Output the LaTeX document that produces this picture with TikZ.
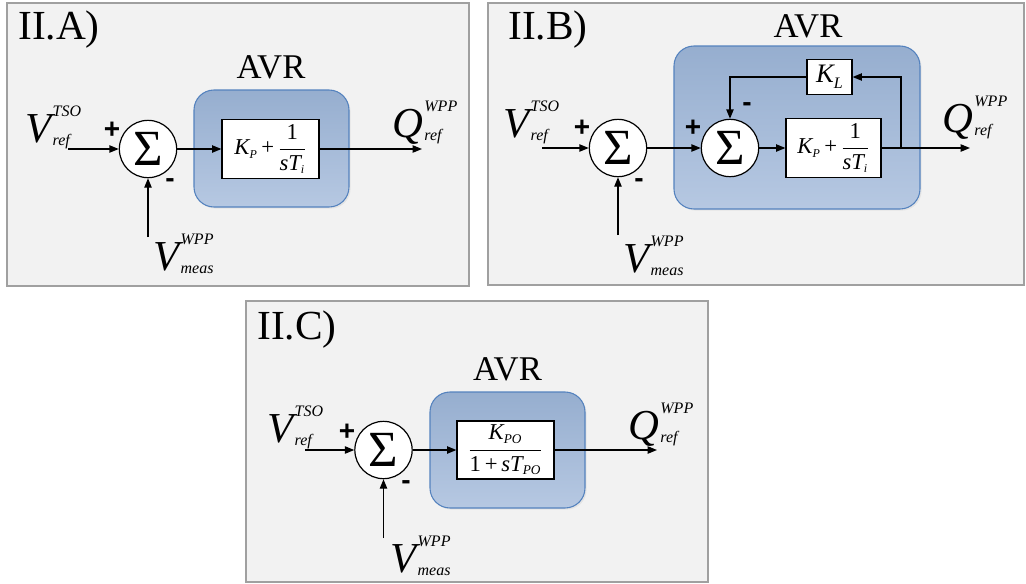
\documentclass[tikz,border=0pt]{standalone}
\usepackage{fontspec}
\setmainfont{Liberation Serif}
\newfontfamily\signfont{Liberation Sans}
\usetikzlibrary{arrows.meta,shadows}

\definecolor{panelbg}{RGB}{242,242,242}
\definecolor{panelbd}{RGB}{160,160,160}
\definecolor{avrtop}{RGB}{150,174,207}
\definecolor{avrbot}{RGB}{182,200,226}
\definecolor{avrbd}{RGB}{84,130,190}

\newcommand\sigsym[3]{{\fontsize{32}{32}\selectfont\itshape #1}{\fontsize{12}{12}\selectfont\itshape\kern1pt\rlap{\raisebox{19pt}{#2}}\raisebox{-2.5pt}{#3}}}
\newcommand\pitf{\fontsize{17}{17}\selectfont$\mbox{\itshape K}_{\mbox{\fontsize{9}{9}\selectfont\itshape P}}\mbox{\,+\,}{\displaystyle\frac{\mbox{1}}{\mbox{\itshape sT}_{\mbox{\fontsize{9}{9}\selectfont\itshape i}}}}$}
\newcommand\potf{\fontsize{17}{17}\selectfont$\displaystyle\frac{\mbox{\itshape K}_{\mbox{\fontsize{10}{10}\selectfont\itshape PO}}}{\mbox{1\,+\,\itshape sT}_{\mbox{\fontsize{10}{10}\selectfont\itshape PO}}}$}

\tikzset{
  panel/.style={draw=panelbd, fill=panelbg, line width=1pt},
  avr/.style={draw=avrbd, line width=0.8pt, rounded corners=15pt, top color=avrtop, bottom color=avrbot,
    drop shadow={opacity=0.12, shadow xshift=1.2pt, shadow yshift=-1.2pt}, inner sep=0},
  blk/.style={draw, fill=white, line width=0.9pt, inner sep=0},
  sumnode/.style={circle, draw, fill=white, line width=0.9pt, minimum size=43pt, inner sep=0,
    font=\fontsize{38}{38}\selectfont},
  sig/.style={draw, line width=0.9pt, -{Triangle[length=7pt,width=5.5pt]}},
  sgn/.style={font=\signfont\bfseries\fontsize{21}{21}\selectfont, inner sep=0},
  ttl/.style={anchor=base west, inner sep=0, font=\fontsize{31}{31}\selectfont},
  avrlab/.style={anchor=base, inner sep=0, font=\fontsize{26}{26}\selectfont},
  lab/.style={anchor=base west, inner sep=0},
}

\begin{document}
\begin{tikzpicture}[x=0.75pt, y=-0.75pt]
\useasboundingbox (0,0) rectangle (1026,583);

% ---------------- Panel A ----------------
\node[panel, minimum width=346.5pt, minimum height=212.25pt, inner sep=0] (panA) at (238,144.5) {};
\node[ttl] (tA) at (18,39) {II.A)};
\node[avrlab] (aA) at (271,78) {AVR};
\node[avr, minimum width=116.25pt, minimum height=87.75pt] (avrA) at (271.5,148.5) {};
\node[blk, minimum width=72.75pt, minimum height=44.25pt] (blkA) at (270.5,149) {\pitf};
\node[sumnode] (sA) at (148,149) {$\mbox{Σ}$};
\coordinate (inA) at (68,149);
\coordinate (outA) at (422,149);
\coordinate (measA) at (148,237);
\draw[sig] (inA) -- (sA.west);
\draw[sig] (sA.east) -- (blkA.west);
\draw[sig] (blkA.east) -- (outA);
\draw[sig] (measA) -- (sA.south);
\node[sgn] (pA) at (112,130) {+};
\node[sgn] (mA) at (170,183) {-};
\node[lab] (vrA) at (25,142) {\sigsym{V}{TSO}{ref}};
\node[lab] (vmA) at (153,270) {\sigsym{V}{WPP}{meas}};
\node[lab] (qA) at (392,137) {\sigsym{Q}{WPP}{ref}};

% ---------------- Panel B ----------------
\node[panel, minimum width=402pt, minimum height=211.5pt, inner sep=0] (panB) at (756,144) {};
\node[ttl] (tB) at (508,39) {II.B)};
\node[avrlab] (aB) at (808,37) {AVR};
\node[avr, minimum width=184.5pt, minimum height=122.25pt] (avrB) at (797,127.5) {};
\node[blk, minimum width=33.75pt, minimum height=26.25pt] (klB) at (829.5,77) {\fontsize{20}{20}\selectfont\itshape K\raisebox{-4.5pt}{\fontsize{12}{12}\selectfont L}};
\node[blk, minimum width=71.25pt, minimum height=44.25pt] (blkB) at (833.5,148) {\pitf};
\node[sumnode] (s1B) at (618,148) {$\mbox{Σ}$};
\node[sumnode] (s2B) at (730,148) {$\mbox{Σ}$};
\coordinate (inB) at (542,148);
\coordinate (outB) at (970,148);
\coordinate (measB) at (618,235);
\coordinate (brB) at (901,148);
\draw[sig] (inB) -- (s1B.west);
\draw[sig] (s1B.east) -- (s2B.west);
\draw[sig] (s2B.east) -- (blkB.west);
\draw[sig] (blkB.east) -- (outB);
\draw[sig] (brB) |- (klB.east);
\draw[sig] (klB.west) -| (s2B.north);
\draw[sig] (measB) -- (s1B.south);
\node[sgn] (p1B) at (582,128) {+};
\node[sgn] (m1B) at (639,183) {-};
\node[sgn] (p2B) at (693,128) {+};
\node[sgn] (m2B) at (747,107) {-};
\node[lab] (vrB) at (503,137) {\sigsym{V}{TSO}{ref}};
\node[lab] (vmB) at (623,272) {\sigsym{V}{WPP}{meas}};
\node[lab] (qB) at (942,132) {\sigsym{Q}{WPP}{ref}};

% ---------------- Panel C ----------------
\node[panel, minimum width=346.5pt, minimum height=210.75pt, inner sep=0] (panC) at (477,441.5) {};
\node[ttl] (tC) at (257,339) {II.C)};
\node[avrlab] (aC) at (507.5,380) {AVR};
\node[avr, minimum width=116.25pt, minimum height=87pt] (avrC) at (507.5,450) {};
\node[blk, minimum width=72.75pt, minimum height=43.5pt] (blkC) at (505.5,450) {\potf};
\node[sumnode] (sC) at (383.5,450) {$\mbox{Σ}$};
\coordinate (inC) at (305,450);
\coordinate (outC) at (657,450);
\coordinate (measC) at (383.5,538);
\draw[sig] (inC) -- (sC.west);
\draw[sig] (sC.east) -- (blkC.west);
\draw[sig] (blkC.east) -- (outC);
\draw[sig] (measC) -- (sC.south);
\node[sgn] (pC) at (347,432) {+};
\node[sgn] (mC) at (406,485) {-};
\node[lab] (vrC) at (267,442) {\sigsym{V}{TSO}{ref}};
\node[lab] (vmC) at (390,572) {\sigsym{V}{WPP}{meas}};
\node[lab] (qC) at (628,439) {\sigsym{Q}{WPP}{ref}};
\end{tikzpicture}
\end{document}
